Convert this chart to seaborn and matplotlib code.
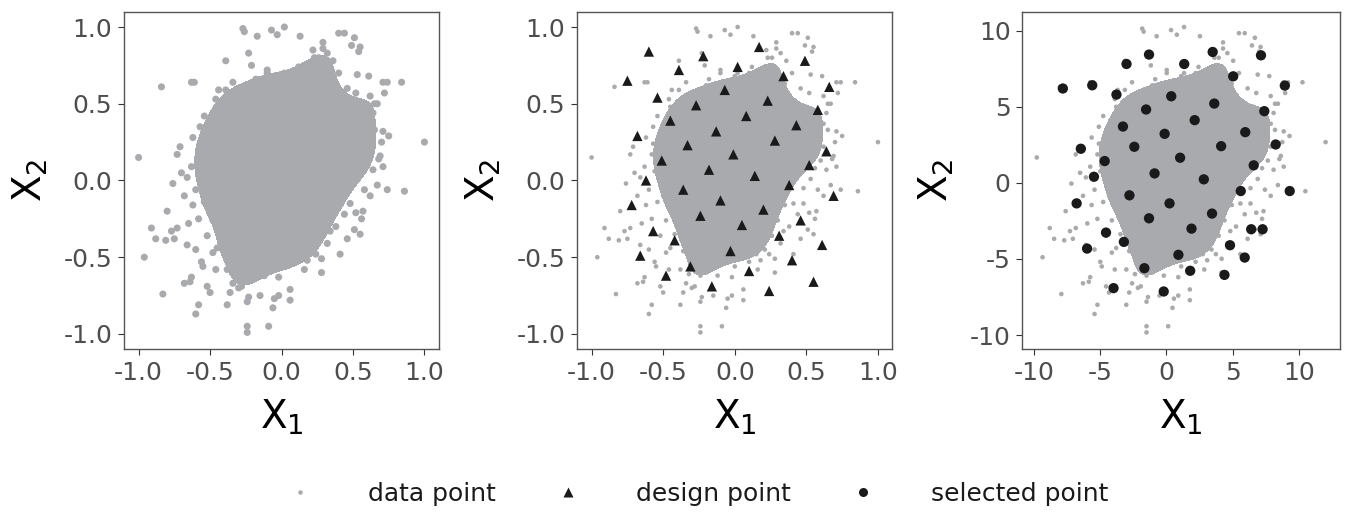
import numpy as np
import pandas as pd
import matplotlib
matplotlib.use("Agg")
import matplotlib.pyplot as plt
from matplotlib.colors import ListedColormap
from matplotlib.lines import Line2D
import seaborn as sns

# ---------------- data (X1, X2 on the normalised [-1, 1] scale) ----------------
outer_points = [
    (-0.27, 0.99), (-0.26, 0.97), (-0.17, 0.94), (-0.07, 0.98), (-0.03, 0.95), (0.02, 1.00),
    (0.13, 0.94), (0.40, 0.96), (0.44, 0.96), (0.51, 0.93), (0.49, 0.88), (0.55, 0.87),
    (0.54, 0.84), (0.29, 0.90), (0.29, 0.86), (0.23, 0.80), (0.26, 0.80), (0.32, 0.83),
    (0.36, 0.78), (-0.39, 0.78), (-0.21, 0.75), (-0.23, 0.83), (0.22, 0.85),
    (-0.84, 0.61), (-0.63, 0.64), (-0.61, 0.64), (-0.39, 0.59), (-0.34, 0.64), (-0.45, 0.48),
    (-0.34, 0.48), (-0.54, 0.42), (-0.57, 0.35), (-0.57, 0.24), (-0.71, 0.22), (-0.73, 0.17),
    (-1.00, 0.15), (-0.70, 0.05), (-0.63, 0.09), (-0.44, 0.59), (-0.46, 0.53),
    (0.84, 0.64), (0.71, 0.64), (0.74, 0.64), (0.72, 0.57), (0.61, 0.68), (0.53, 0.69),
    (0.62, 0.55), (0.67, 0.50), (0.65, 0.50), (0.64, 0.44), (0.57, 0.35), (0.65, 0.33),
    (0.71, 0.32), (0.75, 0.29), (0.70, 0.25), (1.00, 0.25), (0.57, 0.20), (0.69, 0.16),
    (0.68, 0.14), (0.71, 0.09), (0.64, 0.07), (0.56, 0.08), (0.46, 0.05), (0.56, 0.27),
    (-0.96, -0.50), (-0.91, -0.31), (-0.88, -0.38), (-0.83, -0.74), (-0.81, -0.39), (-0.80, -0.20),
    (-0.77, -0.33), (-0.75, -0.38), (-0.76, -0.02), (-0.73, -0.31), (-0.68, -0.67), (-0.64, -0.66),
    (-0.66, -0.42), (-0.63, -0.63), (-0.60, -0.87), (-0.58, -0.81), (-0.55, -0.56), (-0.56, -0.53),
    (-0.52, -0.69), (-0.50, -0.73), (-0.48, -0.47), (-0.46, -0.58), (-0.38, -0.81), (-0.36, -0.73),
    (-0.34, -0.67), (-0.30, -0.70), (-0.28, -0.69), (-0.24, -0.79), (-0.23, -0.76), (-0.24, -0.95),
    (-0.24, -0.99), (-0.09, -0.95), (-0.24, -0.62), (-0.20, -0.60), (-0.15, -0.75), (-0.05, -0.77),
    (-0.02, -0.75), (-0.06, -0.83), (0.06, -0.71), (0.06, -0.78), (-0.02, -0.63), (-0.12, -0.62),
    (-0.32, -0.61),
    (0.16, -0.58), (0.28, -0.60), (0.28, -0.51), (0.21, -0.45), (0.41, -0.48), (0.32, -0.41),
    (0.46, -0.38), (0.55, -0.35), (0.57, -0.20), (0.56, -0.25), (0.52, -0.21), (0.51, -0.32),
    (0.41, -0.15), (0.48, -0.15), (0.62, -0.10), (0.67, -0.03), (0.74, -0.06), (0.86, -0.07),
    (0.58, -0.06), (0.53, 0.01),
]

core_points = [
    (-0.10, 0.72), (0.02, 0.70), (0.12, 0.74), (0.20, 0.68), (0.30, 0.72), (0.40, 0.70),
    (-0.18, 0.66), (-0.05, 0.64), (0.08, 0.62), (0.25, 0.62), (0.35, 0.63), (0.46, 0.60),
    (-0.30, 0.57), (-0.22, 0.56), (-0.12, 0.58), (0.00, 0.55), (0.14, 0.56), (0.22, 0.54),
    (0.32, 0.55), (0.42, 0.52), (0.52, 0.57), (-0.38, 0.50), (0.50, 0.48), (0.58, 0.46),
    (-0.42, 0.42), (-0.32, 0.44), (-0.24, 0.47), (-0.15, 0.46), (-0.05, 0.48), (0.06, 0.47),
    (0.16, 0.44), (0.26, 0.46), (0.36, 0.44), (0.46, 0.42), (0.55, 0.40), (-0.50, 0.34),
    (-0.40, 0.35), (-0.30, 0.36), (-0.20, 0.38), (-0.10, 0.36), (0.00, 0.38), (0.10, 0.36),
    (0.20, 0.38), (0.30, 0.35), (0.40, 0.37), (0.50, 0.33), (0.62, 0.37),
    (-0.62, 0.28), (-0.52, 0.27), (-0.44, 0.25), (-0.35, 0.28), (-0.25, 0.26), (-0.15, 0.28),
    (-0.05, 0.26), (0.05, 0.28), (0.15, 0.25), (0.25, 0.28), (0.35, 0.26), (0.45, 0.27),
    (0.52, 0.23), (0.62, 0.22), (-0.58, 0.17), (-0.48, 0.18), (-0.38, 0.16), (-0.28, 0.18),
    (-0.18, 0.15), (-0.08, 0.18), (0.02, 0.16), (0.12, 0.18), (0.22, 0.15), (0.32, 0.18),
    (0.42, 0.15), (0.50, 0.12), (0.60, 0.13),
    (-0.66, 0.02), (-0.56, 0.06), (-0.47, 0.08), (-0.38, 0.05), (-0.28, 0.08), (-0.18, 0.05),
    (-0.08, 0.08), (0.02, 0.06), (0.12, 0.08), (0.22, 0.05), (0.32, 0.08), (0.40, 0.03),
    (-0.60, -0.06), (-0.50, -0.04), (-0.42, -0.07), (-0.32, -0.03), (-0.22, -0.06), (-0.12, -0.03),
    (-0.02, -0.06), (0.08, -0.03), (0.18, -0.06), (0.28, -0.03), (0.38, -0.06), (0.48, -0.05),
    (-0.68, -0.10),
    (-0.62, -0.16), (-0.54, -0.14), (-0.45, -0.16), (-0.35, -0.13), (-0.25, -0.16), (-0.15, -0.13),
    (-0.05, -0.16), (0.05, -0.13), (0.15, -0.16), (0.25, -0.13), (0.35, -0.16), (0.44, -0.22),
    (-0.58, -0.25), (-0.48, -0.26), (-0.40, -0.23), (-0.30, -0.26), (-0.20, -0.23), (-0.10, -0.26),
    (0.00, -0.23), (0.10, -0.26), (0.20, -0.23), (0.30, -0.26), (0.38, -0.30), (-0.65, -0.28),
    (-0.52, -0.36), (-0.42, -0.35), (-0.33, -0.37), (-0.24, -0.34), (-0.14, -0.37), (-0.04, -0.34),
    (0.06, -0.37), (0.16, -0.34), (0.26, -0.36), (0.34, -0.33), (-0.45, -0.44), (-0.36, -0.46),
    (-0.27, -0.44), (-0.18, -0.47), (-0.08, -0.44), (0.02, -0.47), (0.12, -0.44), (0.24, -0.48),
    (-0.60, -0.45),
    (-0.30, -0.54), (-0.20, -0.56), (-0.10, -0.53), (0.00, -0.56), (0.10, -0.53), (-0.38, -0.58),
    (0.18, -0.52),
]

center_points = [
    (-0.10, 0.70), (0.00, 0.68), (0.10, 0.70), (0.20, 0.72), (0.28, 0.68),
    (-0.20, 0.62), (-0.10, 0.62), (0.00, 0.62), (0.10, 0.62), (0.20, 0.62), (0.30, 0.60),
    (-0.35, 0.52), (-0.25, 0.52), (-0.15, 0.52), (-0.05, 0.52), (0.05, 0.52), (0.15, 0.52),
    (0.25, 0.50), (0.35, 0.50),
    (-0.45, 0.40), (-0.35, 0.40), (-0.25, 0.42), (-0.15, 0.41), (-0.05, 0.42), (0.05, 0.41),
    (0.15, 0.40), (0.25, 0.41), (0.35, 0.40), (0.45, 0.38),
    (-0.48, 0.31), (-0.38, 0.31), (-0.28, 0.32), (-0.18, 0.31), (-0.08, 0.32), (0.02, 0.31),
    (0.12, 0.32), (0.22, 0.31), (0.32, 0.32), (0.42, 0.31),
    (-0.50, 0.22), (-0.40, 0.21), (-0.30, 0.22), (-0.20, 0.21), (-0.10, 0.22), (0.00, 0.21),
    (0.10, 0.22), (0.20, 0.21), (0.30, 0.22), (0.40, 0.21),
    (-0.52, 0.11), (-0.42, 0.12), (-0.32, 0.11), (-0.22, 0.12), (-0.12, 0.11), (-0.02, 0.12),
    (0.08, 0.11), (0.18, 0.12), (0.28, 0.11), (0.38, 0.12),
    (-0.52, 0.01), (-0.43, 0.02), (-0.33, 0.01), (-0.23, 0.02), (-0.13, 0.01), (-0.03, 0.02),
    (0.07, 0.01), (0.17, 0.02), (0.27, 0.01), (0.35, 0.02),
    (-0.50, -0.10), (-0.40, -0.09), (-0.30, -0.10), (-0.20, -0.09), (-0.10, -0.10), (0.00, -0.09),
    (0.10, -0.10), (0.20, -0.09), (0.30, -0.10),
    (-0.45, -0.20), (-0.35, -0.19), (-0.25, -0.20), (-0.15, -0.19), (-0.05, -0.20), (0.05, -0.19),
    (0.15, -0.20), (0.25, -0.19),
    (-0.38, -0.30), (-0.28, -0.29), (-0.18, -0.30), (-0.08, -0.29), (0.02, -0.30), (0.12, -0.29),
    (0.22, -0.30),
    (-0.35, -0.40), (-0.25, -0.40), (-0.15, -0.40), (-0.05, -0.40), (0.05, -0.40), (0.15, -0.40),
    (-0.25, -0.50), (-0.15, -0.50), (-0.05, -0.50), (0.05, -0.50), (0.15, -0.48),
    (-0.25, 0.30), (-0.15, 0.25), (-0.05, 0.30), (0.05, 0.24), (0.15, 0.30), (-0.20, 0.10),
    (-0.10, 0.05), (0.00, 0.15), (0.10, 0.05), (0.20, 0.16), (-0.15, -0.05), (-0.05, -0.12),
    (0.05, -0.05), (0.15, -0.12), (-0.25, -0.05), (-0.30, 0.15), (0.25, 0.35), (-0.05, 0.40),
    (0.05, 0.35), (-0.10, -0.20),
]

# design points (normalised scale)
design_points = [
    (-0.60, 0.84), (-0.22, 0.81), (0.17, 0.87), (0.49, 0.78), (-0.39, 0.72), (0.02, 0.74),
    (-0.75, 0.65), (0.34, 0.68), (0.66, 0.61), (-0.54, 0.54), (-0.07, 0.59), (-0.27, 0.49),
    (0.23, 0.52), (0.58, 0.46), (0.08, 0.42), (-0.45, 0.39), (0.43, 0.36), (-0.13, 0.32),
    (-0.68, 0.29), (0.28, 0.26), (-0.33, 0.23), (0.64, 0.19), (-0.01, 0.17), (-0.51, 0.13),
    (0.52, 0.10), (-0.18, 0.07), (0.14, 0.03), (-0.62, 0.00), (0.38, -0.03), (-0.36, -0.06),
    (0.69, -0.10), (-0.10, -0.13), (-0.72, -0.16), (0.20, -0.19), (-0.24, -0.23), (0.46, -0.26),
    (0.05, -0.29), (-0.57, -0.33), (0.31, -0.36), (-0.42, -0.39), (0.61, -0.42), (-0.03, -0.46),
    (-0.66, -0.49), (0.40, -0.52), (-0.31, -0.56), (0.10, -0.59), (-0.48, -0.62), (0.55, -0.66),
    (-0.16, -0.69), (0.24, -0.72),
]

# selected points (original scale)
selected_points = [
    (-7.82, 6.20), (-5.60, 6.41), (-3.01, 7.81), (-1.31, 8.43), (1.35, 7.81), (3.50, 8.60),
    (7.15, 8.38), (5.05, 7.00), (8.95, 6.39), (-3.77, 5.80), (0.37, 5.69), (3.62, 5.21),
    (-1.53, 4.82), (7.40, 4.71), (2.14, 4.12), (-3.28, 3.70), (5.96, 3.33), (-0.13, 3.22),
    (8.26, 2.52), (-2.42, 2.37), (4.14, 2.41), (-6.46, 2.24), (1.04, 1.65), (-4.66, 1.43),
    (6.60, 1.15), (-0.89, 0.62), (-5.47, 0.40), (2.83, 0.23), (9.32, -0.54), (5.62, -0.54),
    (-2.79, -0.82), (-6.78, -1.35), (0.24, -1.35), (3.45, -2.02), (-1.31, -2.33), (1.90, -3.01),
    (6.41, -3.05), (7.27, -3.05), (-4.56, -3.27), (-3.21, -3.88), (4.81, -4.10), (-5.99, -4.32),
    (0.91, -4.73), (5.92, -4.91), (-1.66, -5.61), (1.80, -5.78), (4.39, -6.05), (-3.99, -6.92),
    (-0.20, -7.14),
]

# original-scale range of the data (X1 min/max, X2 min/max)
x1_range = (-9.79, 12.03)
x2_range = (-9.93, 10.24)

norm_ticks = [-1.0, -0.5, 0.0, 0.5, 1.0]
norm_tick_labels = ["-1.0", "-0.5", "0.0", "0.5", "1.0"]
raw_ticks = [-10, -5, 0, 5, 10]
raw_tick_labels = ["-10", "-5", "0", "5", "10"]
legend_labels = ["data point", "design point", "selected point"]

# ---------------- style ----------------
sns.set_style("white")
plt.rcParams["font.family"] = ["DejaVu Sans"]
plt.rcParams["mathtext.default"] = "regular"
plt.rcParams["axes.unicode_minus"] = False

GRAY = "#a9aaad"
BLACK = "#1a1a1a"
TICK_COLOR = "#4d4d4d"

data_df = pd.DataFrame(outer_points + core_points + center_points, columns=["X1", "X2"])
design_df = pd.DataFrame(design_points, columns=["X1", "X2"])
sel_df = pd.DataFrame(selected_points, columns=["X1", "X2"])

raw_df = pd.DataFrame({
    "X1": x1_range[0] + (data_df["X1"] + 1) / 2 * (x1_range[1] - x1_range[0]),
    "X2": x2_range[0] + (data_df["X2"] + 1) / 2 * (x2_range[1] - x2_range[0]),
})

fig = plt.figure(figsize=(13.45, 5.12), dpi=100)
ax1 = fig.add_axes([0.0924, 0.3178, 0.2338, 0.6594])
ax2 = fig.add_axes([0.4292, 0.3178, 0.2342, 0.6594])
ax3 = fig.add_axes([0.7601, 0.3178, 0.2362, 0.6594])

gray_cmap = ListedColormap([GRAY])


def cloud(ax, df, level, size):
    sns.kdeplot(data=df, x="X1", y="X2", fill=True, levels=[level, 1.0],
                cmap=gray_cmap, bw_adjust=0.8, ax=ax, zorder=1)
    sns.scatterplot(data=df, x="X1", y="X2", s=size, color=GRAY,
                    edgecolor="none", linewidth=0, ax=ax, zorder=2)


cloud(ax1, data_df, 0.36, 26)
cloud(ax2, data_df, 0.44, 11)
sns.scatterplot(data=design_df, x="X1", y="X2", marker="^", s=55, color=BLACK,
                edgecolor="none", linewidth=0, ax=ax2, zorder=3)
cloud(ax3, raw_df, 0.44, 11)
sns.scatterplot(data=sel_df, x="X1", y="X2", marker="o", s=55, color=BLACK,
                edgecolor="none", linewidth=0, ax=ax3, zorder=3)


def expand(r):
    d = (r[1] - r[0]) * 0.05
    return (r[0] - d, r[1] + d)


for ax in (ax1, ax2):
    ax.set_xlim(-1.1, 1.1)
    ax.set_ylim(-1.1, 1.1)
    ax.set_xticks(norm_ticks)
    ax.set_xticklabels(norm_tick_labels)
    ax.set_yticks(norm_ticks)
    ax.set_yticklabels(norm_tick_labels)
ax3.set_xlim(*expand(x1_range))
ax3.set_ylim(*expand(x2_range))
ax3.set_xticks(raw_ticks)
ax3.set_xticklabels(raw_tick_labels)
ax3.set_yticks(raw_ticks)
ax3.set_yticklabels(raw_tick_labels)

for ax in (ax1, ax2, ax3):
    ax.set_xlabel(r"$X_1$", fontsize=28, color="black", labelpad=9)
    ax.set_ylabel(r"$X_2$", fontsize=28, color="black", labelpad=10)
    ax.tick_params(axis="both", which="both", direction="out", length=4.5, width=0.8,
                   color="#333333", labelsize=18, labelcolor=TICK_COLOR, pad=4,
                   bottom=True, left=True)
    for sp in ax.spines.values():
        sp.set_color("#555555")
        sp.set_linewidth(1.0)
    ax.grid(False)

handles = [
    Line2D([], [], linestyle="none", marker="o", markersize=3.2, markerfacecolor=GRAY,
           markeredgecolor="none"),
    Line2D([], [], linestyle="none", marker="^", markersize=7, markerfacecolor=BLACK,
           markeredgecolor="none"),
    Line2D([], [], linestyle="none", marker="o", markersize=6.5, markerfacecolor=BLACK,
           markeredgecolor="none"),
]
fig.legend(handles, legend_labels, loc="center", bbox_to_anchor=(0.519, 0.035), ncol=3,
           frameon=False, fontsize=18, handlelength=1.0, handletextpad=2.2,
           columnspacing=2.4, labelcolor="#1a1a1a")

fig.savefig("out.png", dpi=100)
